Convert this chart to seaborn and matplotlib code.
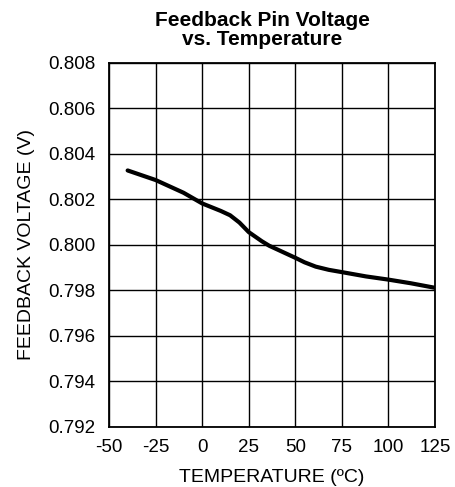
import numpy as np
import pandas as pd
import matplotlib
matplotlib.use("Agg")
import matplotlib.pyplot as plt
import seaborn as sns

# values
temperature = [-40, -25, -10, 0, 10, 15, 20, 25, 32, 36, 50, 55, 61, 68, 75, 88, 100, 112, 125]
fb_voltage = [0.80326, 0.80284, 0.80228, 0.80181, 0.80148, 0.80129, 0.80097, 0.80055,
              0.80015, 0.79995, 0.79942, 0.79922, 0.79903, 0.79889, 0.79879, 0.7986,
              0.79846, 0.7983, 0.7981]

x_ticks = [-50, -25, 0, 25, 50, 75, 100, 125]
y_ticks = [0.792, 0.794, 0.796, 0.798, 0.800, 0.802, 0.804, 0.806, 0.808]

df = pd.DataFrame({"temp": temperature, "vfb": fb_voltage})

sns.set_style("white")
plt.rcParams['font.family'] = ['Liberation Sans', 'DejaVu Sans']
plt.rcParams['axes.unicode_minus'] = False
plt.rcParams['text.color'] = 'black'
plt.rcParams['axes.labelcolor'] = 'black'

fig = plt.figure(figsize=(4.55, 4.87), dpi=100)
ax = fig.add_axes([0.2396, 0.1242, 0.7164, 0.7471])

sns.lineplot(data=df, x="temp", y="vfb", ax=ax, color="black", linewidth=3)

ax.set_xlim(-50, 125)
ax.set_ylim(0.792, 0.808)
ax.set_xticks(x_ticks)
ax.set_yticks(y_ticks)
ax.set_yticklabels([f"{v:.3f}" for v in y_ticks])
ax.tick_params(axis="both", length=0, labelsize=13.5, colors="black")
ax.tick_params(axis="x", pad=9)
ax.tick_params(axis="y", pad=10)
ax.grid(True, color="black", linewidth=1.0)
for s in ax.spines.values():
    s.set_color("black")
    s.set_linewidth(1.3)

ax.set_xlabel("TEMPERATURE (ºC)", fontsize=14, labelpad=9)
ax.set_ylabel("FEEDBACK VOLTAGE (V)", fontsize=14, labelpad=9)
ax.set_title("Feedback Pin Voltage\nvs. Temperature", fontsize=15, fontweight="bold",
             linespacing=0.95, pad=13, x=0.471)

fig.savefig("out.png", dpi=100)
